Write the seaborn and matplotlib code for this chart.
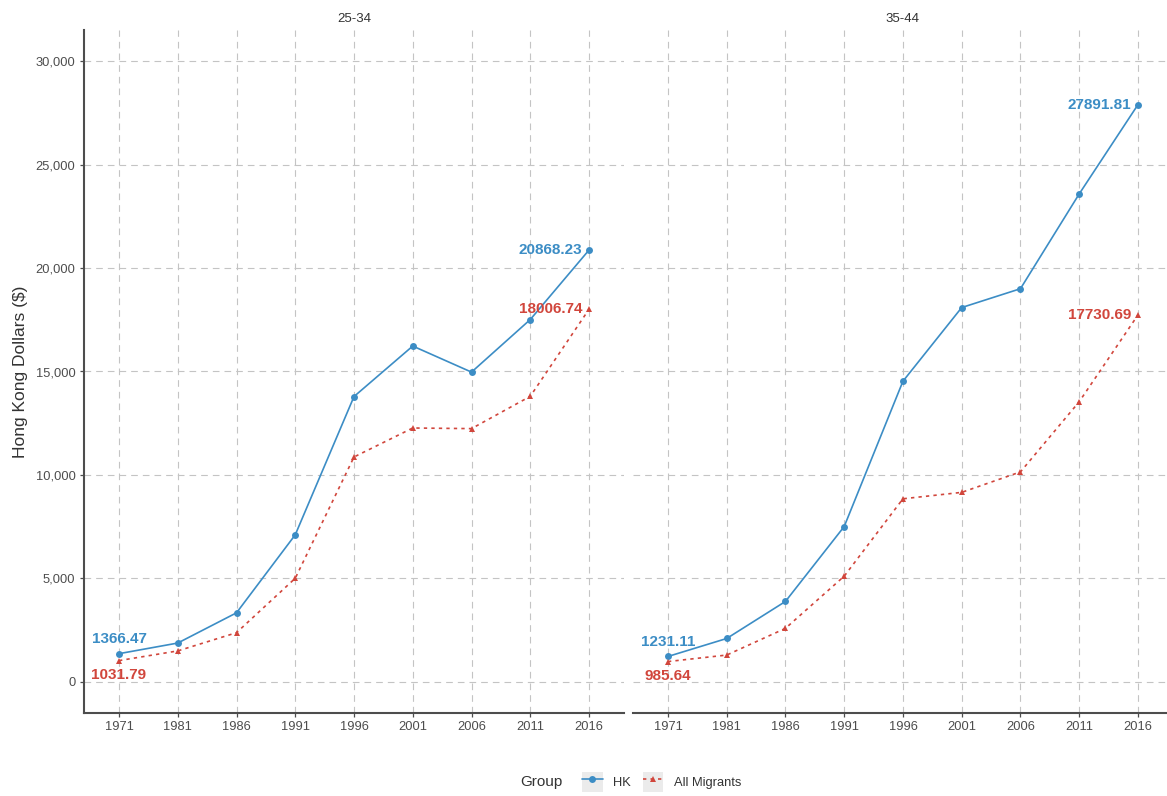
import matplotlib
matplotlib.use("Agg")
import matplotlib.pyplot as plt
from matplotlib.legend_handler import HandlerLine2D
from matplotlib.patches import Rectangle
from matplotlib.ticker import FuncFormatter
import seaborn as sns
import pandas as pd

# Census years (categorical axis)
years = ["1971", "1981", "1986", "1991", "1996", "2001", "2006", "2011", "2016"]

# Median monthly income, age 25-34
hk_25_34 = [1366.47, 1880, 3340, 7110, 13790, 16230, 14970, 17510, 20868.23]
mig_25_34 = [1031.79, 1500, 2380, 5010, 10870, 12270, 12240, 13800, 18006.74]

# Median monthly income, age 35-44
hk_35_44 = [1231.11, 2100, 3890, 7510, 14530, 18090, 19000, 23580, 27891.81]
mig_35_44 = [985.64, 1300, 2590, 5110, 8850, 9160, 10150, 13540, 17730.69]

panels = ["25-34", "35-44"]
groups = ["HK", "All Migrants"]
yticks = [0, 5000, 10000, 15000, 20000, 25000, 30000]

series = {
    ("25-34", "HK"): hk_25_34,
    ("25-34", "All Migrants"): mig_25_34,
    ("35-44", "HK"): hk_35_44,
    ("35-44", "All Migrants"): mig_35_44,
}
rows = []
for (panel, group), vals in series.items():
    for yr, v in zip(years, vals):
        rows.append({"Age": panel, "Group": group, "Year": yr, "Income": v})
df = pd.DataFrame(rows)

palette = {"HK": "#3C8DC5", "All Migrants": "#D1463C"}
markers = {"HK": "o", "All Migrants": "^"}
dashes = {"HK": "", "All Migrants": (2, 2.5)}

sns.set_theme(style="white")
plt.rcParams["font.family"] = ["Liberation Sans", "DejaVu Sans"]

W, H = 1167, 796
fig = plt.figure(figsize=(W / 100, H / 100), dpi=100)
fig.patch.set_facecolor("white")

bottom = 1 - 713 / H
height = (713 - 30) / H
pw = 540.5 / W
ax_left = fig.add_axes([83.75 / W, bottom, pw, height])
ax_right = fig.add_axes([632.7 / W, bottom, pw, height])
axes = [ax_left, ax_right]

grid_kw = dict(color="#c4c4c4", linewidth=0.8, linestyle=(0, (6, 4.5)))
spine_color = "#4d4d4d"

for ax, panel in zip(axes, panels):
    sub = df[df["Age"] == panel]
    sns.lineplot(
        data=sub, x="Year", y="Income", hue="Group", style="Group",
        hue_order=groups, style_order=groups, palette=palette,
        markers=markers, dashes=dashes, markersize=5, markeredgewidth=0,
        linewidth=1.2, sort=False, ax=ax, legend=(panel == panels[0]),
    )
    ax.set_xlim(-0.6, len(years) - 0.4)
    ax.set_ylim(-1500, 31500)
    ax.set_yticks(yticks)
    ax.yaxis.set_major_formatter(FuncFormatter(lambda v, p: f"{int(v):,}"))
    ax.grid(True, which="major", **grid_kw)
    ax.set_axisbelow(True)
    ax.set_xlabel("")
    ax.set_ylabel("")
    for s in ["top", "right"]:
        ax.spines[s].set_visible(False)
    ax.spines["bottom"].set_color(spine_color)
    ax.spines["bottom"].set_linewidth(1.5)
    ax.spines["left"].set_color(spine_color)
    ax.spines["left"].set_linewidth(1.5)
    ax.tick_params(axis="both", labelsize=9.3, colors=spine_color, labelcolor="#4d4d4d",
                   length=3, width=0.9, pad=3, bottom=True, left=True)
    ax.set_title(panel, fontsize=9.5, color="#333333", pad=5.5)

    # Value labels on the first and last census year
    for group in groups:
        vals = series[(panel, group)]
        col = palette[group]
        dy = 10.4 if group == "HK" else -10.4
        ax.annotate(f"{vals[0]:.2f}", xy=(0, vals[0]), xytext=(0, dy),
                    textcoords="offset points", ha="center", va="center",
                    fontsize=11, fontweight="bold", color=col)
        last = len(years) - 1
        ax.annotate(f"{vals[last]:.2f}", xy=(last, vals[last]), xytext=(-5, 0),
                    textcoords="offset points", ha="right", va="center",
                    fontsize=11, fontweight="bold", color=col)

ax_right.spines["left"].set_visible(False)
ax_right.tick_params(axis="y", left=False, labelleft=False)

ax_left.set_ylabel("Hong Kong Dollars ($)", fontsize=12.5, color="#333333")
ax_left.yaxis.set_label_coords(-(83.75 - 28) / 540.5, 0.5)

# Legend below the panels with grey key backgrounds
handles, labels = ax_left.get_legend_handles_labels()
ax_left.get_legend().remove()
pairs = [(h, l) for h, l in zip(handles, labels) if l in groups]
handles = [p[0] for p in pairs]
labels = [p[1] for p in pairs]


class KeyHandler(HandlerLine2D):
    def create_artists(self, legend, orig_handle, xdescent, ydescent,
                       width, height, fontsize, trans):
        bg = Rectangle((-xdescent, -ydescent), width, height,
                       facecolor="#ebebeb", edgecolor="none", transform=trans)
        arts = super().create_artists(legend, orig_handle, xdescent, ydescent,
                                      width, height, fontsize, trans)
        return [bg] + list(arts)


leg = fig.legend(
    handles, labels, loc="center", ncol=2, frameon=False, fontsize=9.3,
    bbox_to_anchor=(661.5 / W, 1 - 782 / H), handlelength=1.6, handleheight=2.0,
    handletextpad=0.8, columnspacing=0.9, borderpad=0, numpoints=1,
    handler_map={h: KeyHandler() for h in handles},
)
for t in leg.get_texts():
    t.set_color("#333333")
fig.text(541 / W, 1 - 782 / H, "Group", fontsize=11, color="#333333",
         ha="center", va="center")

fig.savefig("out.png", dpi=100, facecolor="white")
